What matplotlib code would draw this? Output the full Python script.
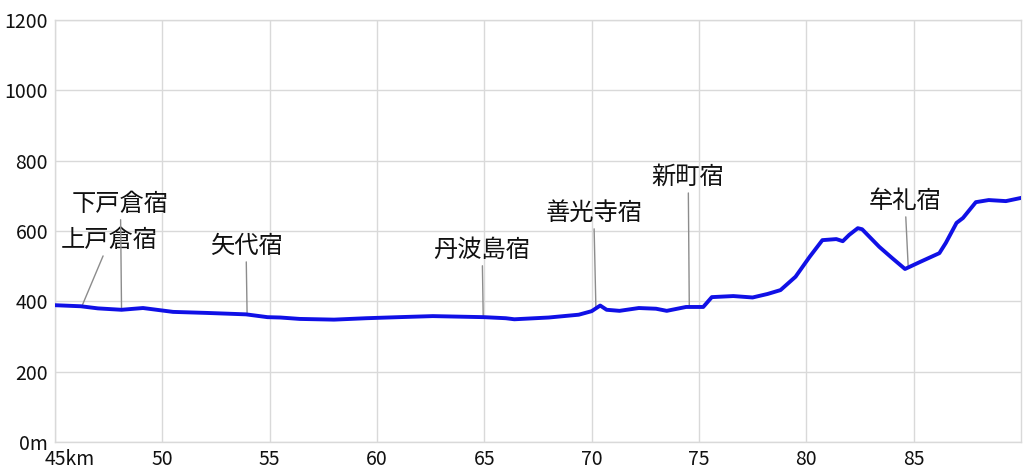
#!/usr/bin/env python
'''
    Elevation profile (45km - 90km) with post-town labels.
'''

import numpy as np
import matplotlib
matplotlib.use('Agg')
import matplotlib.pyplot as plt
from matplotlib.transforms import ScaledTranslation

plt.rcParams['font.family'] = ['Noto Sans CJK JP', 'DejaVu Sans']

# Profile: distance (km) and elevation (m)
dist_km = [45.0, 46.2, 47.0, 48.1, 49.1, 50.5, 52.1, 53.9, 54.9, 55.5,
           56.4, 58.0, 59.5, 61.0, 62.6, 65.0, 66.0, 66.4, 68.0, 69.4,
           70.0, 70.4, 70.7, 71.3, 72.2, 73.0, 73.5, 74.4, 75.2, 75.6,
           76.6, 77.5, 78.2, 78.8, 79.5, 80.15, 80.75, 81.4, 81.7, 82.0,
           82.4, 82.6, 83.4, 84.0, 84.6, 85.3, 86.2, 86.5, 87.0, 87.3,
           87.9, 88.5, 89.3, 90.0]
elev_m = [389, 386, 380, 376, 381, 370, 367, 363, 355, 354,
          350, 348, 352, 355, 358, 355, 352, 349, 354, 362,
          372, 388, 376, 373, 381, 379, 373, 384, 384, 412,
          415, 411, 421, 432, 470, 526, 574, 577, 571, 589,
          608, 605, 555, 523, 492, 512, 537, 566, 623, 637,
          682, 688, 685, 694]

# Post towns: name and distance (km)
towns = ['上戸倉宿', '下戸倉宿', '矢代宿', '丹波島宿', '善光寺宿', '新町宿', '牟礼宿']
town_km = [46.25, 48.1, 53.95, 64.95, 70.2, 74.55, 84.75]

# Label placement (km, m) for each town
label_pos = [(47.55, 574), (48.05, 677), (53.9, 557), (64.9, 546),
             (70.1, 651), (74.5, 753), (84.6, 685)]

x_ticks = [45, 50, 55, 60, 65, 70, 75, 80, 85]
x_labels = ['45km', '50', '55', '60', '65', '70', '75', '80', '85']
y_ticks = [0, 200, 400, 600, 800, 1000, 1200]
y_labels = ['0m', '200', '400', '600', '800', '1000', '1200']

fig = plt.figure(figsize=(10.24, 4.76), dpi=100)
ax = fig.add_axes([0.0537, 0.0714, 0.9433, 0.8866])

ax.plot(dist_km, elev_m, color='#1010e6', lw=2.8, solid_joinstyle='round', zorder=3)

# Town labels with leader lines
for name, km, (tx, ty) in zip(towns, town_km, label_pos):
    y = np.interp(km, dist_km, elev_m)
    ax.annotate(name, xy=(km, y), xytext=(tx, ty), ha='center', va='center',
                fontsize=17.5, color='#111111',
                arrowprops=dict(arrowstyle='-', color='#8c8c8c', lw=1,
                                shrinkA=0, shrinkB=0), zorder=2)

ax.set_xlim(45, 90)
ax.set_ylim(0, 1200)
ax.set_xticks(x_ticks)
ax.set_xticklabels(x_labels)
ax.set_yticks(y_ticks)
ax.set_yticklabels(y_labels)
ax.tick_params(length=0, labelsize=14, colors='#111111', pad=5)

# shift the first x label so that "45" sits on its gridline
first = ax.get_xticklabels()[0]
first.set_horizontalalignment('left')
first.set_transform(first.get_transform() + ScaledTranslation(-10 / 100, 0, fig.dpi_scale_trans))

ax.grid(True, color='#d9d9d9', lw=1)
ax.set_axisbelow(True)
for s in ax.spines.values():
    s.set_color('#d9d9d9')
    s.set_linewidth(1)

fig.savefig('out.png', dpi=100)
